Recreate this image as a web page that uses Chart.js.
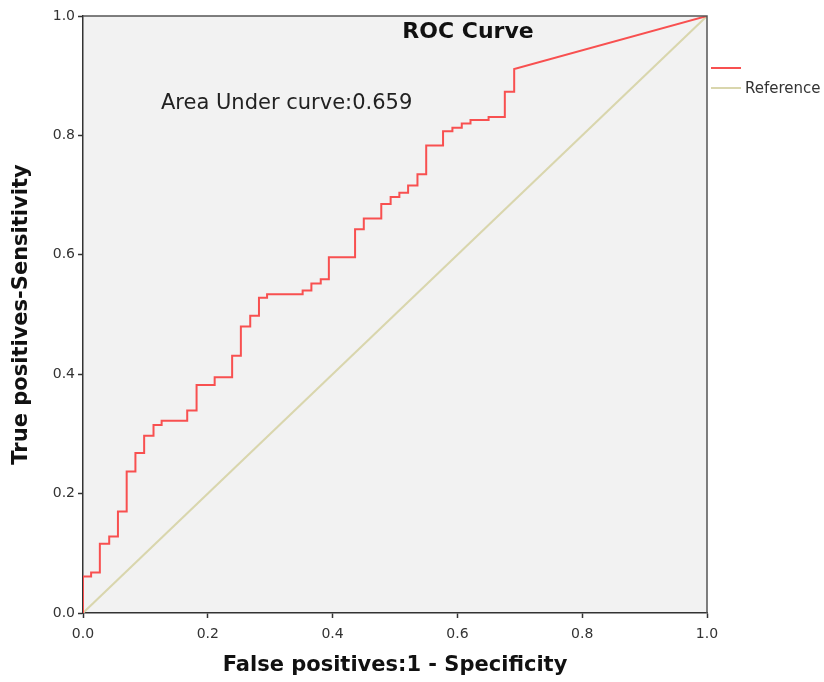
<!DOCTYPE html>
<html><head><meta charset="utf-8">
<script src="https://cdn.jsdelivr.net/npm/chart.js@4"></script>
<style>html,body{margin:0;padding:0;background:#fff}#wrap{width:824px;height:682px;position:relative}</style>
</head><body><div id="wrap"><canvas id="c"></canvas></div>
<script>
// ROC curve vertices (1 - specificity, sensitivity)
const fpr = [0,0,0.013,0.013,0.027,0.027,0.042,0.042,0.056,0.056,0.070,0.070,0.084,0.084,0.098,0.098,0.113,0.113,0.126,0.126,0.167,0.167,0.182,0.182,0.211,0.211,0.239,0.239,0.253,0.253,0.268,0.268,0.282,0.282,0.295,0.295,0.352,0.352,0.366,0.366,0.381,0.381,0.394,0.394,0.436,0.436,0.450,0.450,0.478,0.478,0.493,0.493,0.507,0.507,0.521,0.521,0.536,0.536,0.550,0.550,0.577,0.577,0.592,0.592,0.607,0.607,0.621,0.621,0.650,0.650,0.676,0.676,0.691,0.691,1];
const tpr = [0,0.061,0.061,0.068,0.068,0.116,0.116,0.128,0.128,0.170,0.170,0.237,0.237,0.268,0.268,0.297,0.297,0.315,0.315,0.322,0.322,0.339,0.339,0.382,0.382,0.395,0.395,0.431,0.431,0.480,0.480,0.498,0.498,0.528,0.528,0.534,0.534,0.540,0.540,0.552,0.552,0.559,0.559,0.596,0.596,0.643,0.643,0.661,0.661,0.685,0.685,0.697,0.697,0.704,0.704,0.716,0.716,0.735,0.735,0.783,0.783,0.807,0.807,0.813,0.813,0.820,0.820,0.826,0.826,0.831,0.831,0.873,0.873,0.911,1];
const refX = [0,1];
const refY = [0,1];
const tickValues = [0,0.2,0.4,0.6,0.8,1.0];
const titleText = "ROC Curve";
const aucText = "Area Under curve:0.659";
const seriesLabels = ["", "Reference"];
const seriesColors = ["#f85050", "#d9d6ad"];

const rocData = fpr.map((x,i)=>({x:x,y:tpr[i]}));
const refData = refX.map((x,i)=>({x:x,y:refY[i]}));

const FONT = "'DejaVu Sans', sans-serif";

const deco = {
  id:'deco',
  beforeDraw(chart){
    const {ctx, chartArea:a} = chart;
    ctx.save();
    ctx.fillStyle = '#f2f2f2';
    ctx.fillRect(a.left, a.top, a.right-a.left, a.bottom-a.top);
    ctx.restore();
  },
  afterDraw(chart){
    const {ctx, chartArea:a, scales} = chart;
    ctx.save();
    ctx.strokeStyle = '#555';
    ctx.lineWidth = 1.5;
    ctx.beginPath();
    ctx.moveTo(a.left, a.top); ctx.lineTo(a.right, a.top); ctx.lineTo(a.right, a.bottom);
    ctx.stroke();
    // title
    ctx.fillStyle = '#111';
    ctx.font = "bold 22px " + FONT;
    ctx.textAlign = 'center'; ctx.textBaseline = 'middle';
    ctx.fillText(titleText, scales.x.getPixelForValue(0.617), scales.y.getPixelForValue(0.973));
    ctx.font = "21px " + FONT;
    ctx.fillStyle = '#222';
    ctx.textAlign = 'left';
    ctx.fillText(aucText, scales.x.getPixelForValue(0.125), scales.y.getPixelForValue(0.853));
    // legend
    const lx = a.right + 4;
    const rows = [a.top + 52, a.top + 72];
    seriesLabels.forEach((lab, i)=>{
      ctx.strokeStyle = seriesColors[i];
      ctx.lineWidth = 2;
      ctx.beginPath(); ctx.moveTo(lx, rows[i]); ctx.lineTo(lx+30, rows[i]); ctx.stroke();
      ctx.fillStyle = '#333';
      ctx.font = "15px " + FONT;
      ctx.textAlign='left'; ctx.textBaseline='middle';
      ctx.fillText(lab, lx+34, rows[i]+1);
    });
    ctx.restore();
  }
};

new Chart(document.getElementById('c'), {
  type:'scatter',
  data:{datasets:[
    {label:seriesLabels[0], data:rocData, showLine:true, borderColor:seriesColors[0], borderWidth:2, pointRadius:0, fill:false, tension:0, order:1},
    {label:seriesLabels[1], data:refData, showLine:true, borderColor:seriesColors[1], borderWidth:2, pointRadius:0, fill:false, tension:0, order:2}
  ]},
  options:{
    responsive:true, maintainAspectRatio:false, animation:false,
    layout:{padding:{left:0, top:16, right:117, bottom:0}},
    plugins:{legend:{display:false}, tooltip:{enabled:false}},
    scales:{
      x:{type:'linear', min:0, max:1,
        afterBuildTicks(s){ s.ticks = tickValues.map(v=>({value:v})); },
        afterFit(s){ s.height = 69; },
        grid:{drawOnChartArea:false, drawTicks:true, tickLength:5, color:'#333', tickWidth:1.5},
        border:{display:true, color:'#333', width:1.5},
        ticks:{color:'#333', font:{family:FONT, size:14}, padding:8, callback:v=>Number(v).toFixed(1), maxRotation:0},
        title:{display:true, text:'False positives:1 - Specificity', color:'#111', font:{family:FONT, size:21, weight:'bold'}, padding:{top:0,bottom:4}}
      },
      y:{type:'linear', min:0, max:1,
        afterBuildTicks(s){ s.ticks = tickValues.map(v=>({value:v})); },
        afterFit(s){ s.width = 83; },
        grid:{drawOnChartArea:false, drawTicks:true, tickLength:5, color:'#333', tickWidth:1.5},
        border:{display:true, color:'#333', width:1.5},
        ticks:{color:'#333', font:{family:FONT, size:14}, padding:3, callback:v=>Number(v).toFixed(1)},
        title:{display:true, text:'True positives-Sensitivity', color:'#111', font:{family:FONT, size:21, weight:'bold'}, padding:{top:9,bottom:0}}
      }
    }
  },
  plugins:[deco]
});
</script></body></html>
